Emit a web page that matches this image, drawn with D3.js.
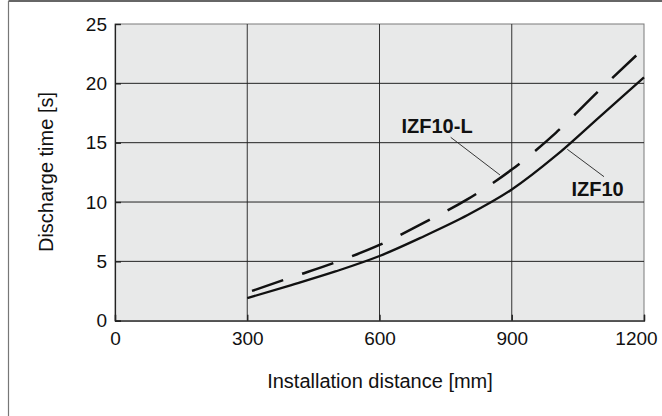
<!DOCTYPE html>
<html>
<head>
<meta charset="utf-8">
<script src="https://cdn.jsdelivr.net/npm/d3@7"></script>
<style>
  html, body { margin: 0; padding: 0; background: #fff; }
  svg { display: block; }
  text { font-family: "Liberation Sans", Arial, Helvetica, sans-serif; fill: #111; }
</style>
</head>
<body>
<svg id="chart" width="662" height="416"></svg>
<script>
// ---- data ----
const distances = [300, 400, 500, 600, 700, 800, 900, 1000, 1100, 1200];
const izf10 = [1.9, 3.0, 4.15, 5.45, 7.1, 8.9, 11.05, 13.9, 17.2, 20.5];
const izf10L = [2.37, 3.65, 4.92, 6.38, 8.25, 10.24, 12.73, 15.83, 19.46, 22.96];
const xTicks = [0, 300, 600, 900, 1200];
const yTicks = [0, 5, 10, 15, 20, 25];
const seriesNames = ["IZF10", "IZF10-L"];
const xTitle = "Installation distance [mm]";
const yTitle = "Discharge time [s]";

// ---- layout ----
const svg = d3.select("#chart");
const pLeft = 115, pRight = 644, pTop = 24, pBottom = 320.7;
const x = d3.scaleLinear().domain([0, 1200]).range([pLeft, pRight]);
const y = d3.scaleLinear().domain([0, 25]).range([pBottom, pTop]);

// outer frame (top and left)
svg.append("line").attr("x1", 8.5).attr("x2", 662).attr("y1", 1).attr("y2", 1)
  .attr("stroke", "#333").attr("stroke-width", 1.5);
svg.append("line").attr("x1", 8.5).attr("x2", 8.5).attr("y1", 1).attr("y2", 416)
  .attr("stroke", "#777").attr("stroke-width", 1.2);

// plot background
svg.append("rect").attr("x", pLeft).attr("y", pTop)
  .attr("width", pRight - pLeft).attr("height", pBottom - pTop)
  .attr("fill", "#e8e9e9").attr("stroke", "#7a7a7a").attr("stroke-width", 1);

// grid
const grid = svg.append("g");
xTicks.filter(d => d > 0 && d < 1200).forEach(d => {
  grid.append("line").attr("x1", x(d)).attr("x2", x(d)).attr("y1", pTop).attr("y2", pBottom)
    .attr("stroke", "#333").attr("stroke-width", 1);
});
yTicks.filter(d => d > 0 && d < 25).forEach(d => {
  grid.append("line").attr("x1", pLeft).attr("x2", pRight).attr("y1", y(d)).attr("y2", y(d))
    .attr("stroke", "#222").attr("stroke-width", 1);
});

// axes
const xAxis = svg.append("g").attr("transform", `translate(0,${pBottom})`)
  .call(d3.axisBottom(x).tickValues(xTicks).tickSize(-6).tickPadding(10).tickFormat(d3.format("d")));
const yAxis = svg.append("g").attr("transform", `translate(${pLeft},0)`)
  .call(d3.axisLeft(y).tickValues(yTicks).tickSize(-6).tickPadding(8).tickFormat(d3.format("d")));
[xAxis, yAxis].forEach(g => {
  g.select(".domain").attr("stroke", "#222").attr("stroke-width", 1.2);
  g.selectAll(".tick line").attr("stroke", "#222").attr("stroke-width", 1.4);
  g.selectAll(".tick text").style("font-size", "19px").attr("fill", "#111");
});
xAxis.selectAll(".tick text").attr("dy", "0.75em");
xAxis.selectAll(".tick text").filter(d => d === 1200).attr("dx", -8);

// axis titles
svg.append("text").attr("x", 380).attr("y", 388).attr("text-anchor", "middle")
  .style("font-size", "20px").text(xTitle);
svg.append("text").attr("transform", `translate(53,172) rotate(-90)`)
  .attr("text-anchor", "middle").style("font-size", "20px").text(yTitle);

// curves
const line = d3.line().x((d, i) => x(distances[i])).y(d => y(d)).curve(d3.curveMonotoneX);
svg.append("path").datum(izf10).attr("d", line)
  .attr("fill", "none").attr("stroke", "#111").attr("stroke-width", 2.3);
svg.append("path").datum(izf10L).attr("d", line)
  .attr("fill", "none").attr("stroke", "#111").attr("stroke-width", 2.5)
  .attr("stroke-dasharray", "33,20").attr("stroke-dashoffset", 48);

// labels and leaders
svg.append("line").attr("x1", 450.7).attr("y1", 137.3).attr("x2", 500).attr("y2", 175)
  .attr("stroke", "#222").attr("stroke-width", 0.9);
svg.append("line").attr("x1", 567.3).attr("y1", 149.3).attr("x2", 604).attr("y2", 176.7)
  .attr("stroke", "#222").attr("stroke-width", 0.9);
svg.append("text").attr("x", 401.5).attr("y", 133.3).style("font-size", "20px")
  .style("font-weight", "bold").text(seriesNames[1]);
svg.append("text").attr("x", 571.5).attr("y", 196).style("font-size", "20px")
  .style("font-weight", "bold").text(seriesNames[0]);
</script>
</body>
</html>
